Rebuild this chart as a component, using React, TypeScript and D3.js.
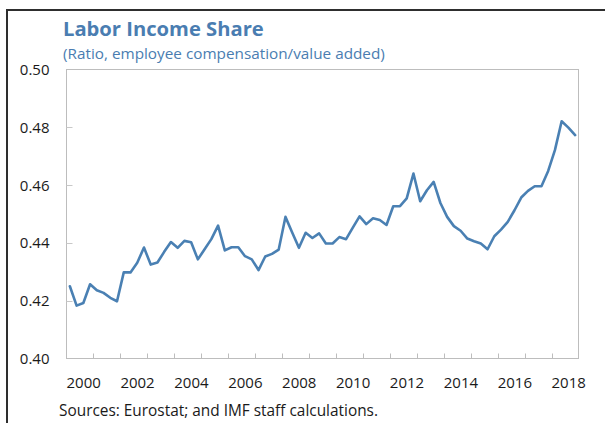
import React from "react";
import * as d3 from "d3";

const startYear = 2000;
const endYear = 2019;
// Quarterly labor income share, 2000Q1 – 2018Q4
const laborShare: number[] = [
  0.4250, 0.4183, 0.4192, 0.4257,
  0.4236, 0.4227, 0.4210, 0.4198,
  0.4298, 0.4298, 0.4331, 0.4384,
  0.4325, 0.4332, 0.4369, 0.4403,
  0.4383, 0.4407, 0.4402, 0.4343,
  0.4378, 0.4413, 0.4460, 0.4374,
  0.4385, 0.4385, 0.4354, 0.4343,
  0.4306, 0.4353, 0.4362, 0.4377,
  0.4490, 0.4436, 0.4383, 0.4435,
  0.4417, 0.4433, 0.4398, 0.4398,
  0.4420, 0.4413, 0.4453, 0.4492,
  0.4465, 0.4485, 0.4479, 0.4462,
  0.4527, 0.4527, 0.4554, 0.4640,
  0.4544, 0.4582, 0.4611, 0.4538,
  0.4490, 0.4458, 0.4442, 0.4415,
  0.4406, 0.4398, 0.4378, 0.4423,
  0.4446, 0.4473, 0.4513, 0.4557,
  0.4580, 0.4596, 0.4596, 0.4649,
  0.4721, 0.4821, 0.4799, 0.4773,
];
const quarters: string[] = laborShare.map(
  (_, i) => `${startYear + Math.floor(i / 4)}Q${(i % 4) + 1}`
);
const yTicks: number[] = [0.4, 0.42, 0.44, 0.46, 0.48, 0.5];
const xLabelYears: number[] = [2000, 2002, 2004, 2006, 2008, 2010, 2012, 2014, 2016, 2018];
const minorYears: number[] = d3.range(startYear + 1, endYear);

const title = "Labor Income Share";
const subtitle = "(Ratio, employee compensation/value added)";
const source = "Sources: Eurostat; and IMF staff calculations.";

const W = 605;
const H = 423;
const left = 66.5;
const right = 578.5;
const top = 69.5;
const bottom = 358.5;
const FONT = "'Open Sans', 'Noto Sans', sans-serif";
const BLUE = "#4a7db1";

export default function App() {
  const x = d3.scaleLinear().domain([startYear, endYear]).range([left, right]);
  const y = d3.scaleLinear().domain([0.4, 0.5]).range([bottom, top]);
  const pts = quarters.map((q, i) => {
    const yr = +q.slice(0, 4);
    const qi = +q.slice(5) - 1;
    return { t: yr + (qi + 0.5) / 4, v: laborShare[i] };
  });
  const line = d3
    .line<{ t: number; v: number }>()
    .x((d) => x(d.t))
    .y((d) => y(d.v));

  return (
    <svg
      width={W}
      height={H}
      style={{ position: "absolute", left: 0, top: 0, background: "#fff" }}
      fontFamily={FONT}
    >
      <rect x={0} y={0} width={W} height={H} fill="#fff" />
      <path d={`M7,${H} V10 H${W}`} fill="none" stroke="#2e2e2e" strokeWidth={2} />
      <text x={63} y={36} fill={BLUE} fontSize={20.2} fontWeight={700}>
        {title}
      </text>
      <text x={63} y={58.5} fill={BLUE} fontSize={15.3}>
        {subtitle}
      </text>
      {/* plot frame */}
      <rect
        x={left}
        y={top}
        width={right - left}
        height={bottom - top}
        fill="none"
        stroke="#bdbdbd"
        strokeWidth={1}
      />
      {/* y ticks */}
      {yTicks.map((t) => (
        <g key={t}>
          {t > 0.4 && t < 0.5 && (
            <line x1={left} x2={left + 6} y1={Math.round(y(t)) + 0.5} y2={Math.round(y(t)) + 0.5} stroke="#c8c8c8" />
          )}
          <text
            x={49.5}
            y={y(t)}
            dy="0.36em"
            textAnchor="end"
            fontSize={15}
            fill="#1a1a1a"
          >
            {t.toFixed(2)}
          </text>
        </g>
      ))}
      {/* x ticks */}
      {minorYears.map((yr) => (
        <line
          key={yr}
          x1={Math.round(x(yr)) + 0.5}
          x2={Math.round(x(yr)) + 0.5}
          y1={bottom}
          y2={bottom - 5}
          stroke="#bdbdbd"
        />
      ))}
      {xLabelYears.map((yr) => (
        <text key={yr} x={x(yr)} y={388} fontSize={15} fill="#1a1a1a">
          {yr}
        </text>
      ))}
      <path
        d={line(pts) || ""}
        fill="none"
        stroke="#4a80b3"
        strokeWidth={2.6}
        strokeLinejoin="round"
        strokeLinecap="round"
      />
      <text x={59} y={416} fontSize={15.4} fill="#1a1a1a">
        {source}
      </text>
    </svg>
  );
}
